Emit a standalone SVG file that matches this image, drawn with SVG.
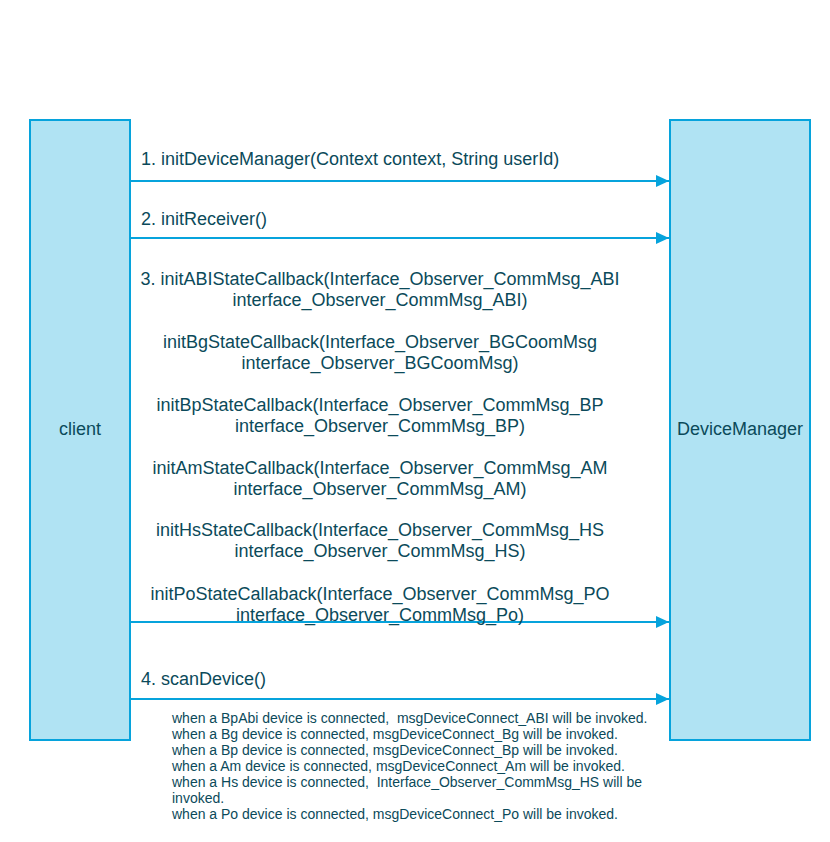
<svg xmlns="http://www.w3.org/2000/svg" width="830" height="842" viewBox="0 0 830 842">
  <style>
    .box { fill: #b0e3f3; stroke: #06a3dc; stroke-width: 2; }
    .lbl { font-family: "Liberation Sans", Arial, sans-serif; font-size: 18px; fill: #0b4a5a; }
    .mid { text-anchor: middle; }
    .note { font-family: "Liberation Sans", Arial, sans-serif; font-size: 14px; fill: #0b4a5a; white-space: pre; }
    .msg { stroke: #06a3dc; stroke-width: 2; fill: none; marker-end: url(#head); }
  </style>
  <defs>
    <!-- solid triangular arrowhead shared by all messages -->
    <marker id="head" markerWidth="14" markerHeight="12" refX="13" refY="6" orient="auto" markerUnits="userSpaceOnUse">
      <path d="M0,0 L13,6 L0,12 Z" fill="#06a3dc"/>
    </marker>
  </defs>
  <rect width="830" height="842" fill="#ffffff"/>

  <g id="client">
    <rect class="box" x="30" y="120" width="100" height="620"/>
    <text class="lbl mid" x="80" y="435">client</text>
  </g>

  <g id="device-manager">
    <rect class="box" x="670" y="120" width="140" height="620"/>
    <text class="lbl mid" x="740" y="435">DeviceManager</text>
  </g>

  <g id="connectors">
    <line class="msg" x1="131" y1="181" x2="669" y2="181"/>
    <line class="msg" x1="131" y1="238" x2="669" y2="238"/>
    <line class="msg" x1="131" y1="622" x2="669" y2="622"/>
    <line class="msg" x1="131" y1="699" x2="669" y2="699"/>
  </g>

  <g id="labels">
    <text class="lbl" x="141" y="165">1. initDeviceManager(Context context, String userId)</text>
    <text class="lbl" x="141" y="225">2. initReceiver()</text>

    <text class="lbl mid" x="380" y="285">3. initABIStateCallback(Interface_Observer_CommMsg_ABI</text>
    <text class="lbl mid" x="380" y="306">interface_Observer_CommMsg_ABI)</text>

    <text class="lbl mid" x="380" y="348">initBgStateCallback(Interface_Observer_BGCoomMsg</text>
    <text class="lbl mid" x="380" y="369">interface_Observer_BGCoomMsg)</text>

    <text class="lbl mid" x="380" y="411">initBpStateCallback(Interface_Observer_CommMsg_BP</text>
    <text class="lbl mid" x="380" y="432">interface_Observer_CommMsg_BP)</text>

    <text class="lbl mid" x="380" y="474">initAmStateCallback(Interface_Observer_CommMsg_AM</text>
    <text class="lbl mid" x="380" y="495">interface_Observer_CommMsg_AM)</text>

    <text class="lbl mid" x="380" y="536">initHsStateCallback(Interface_Observer_CommMsg_HS</text>
    <text class="lbl mid" x="380" y="557">interface_Observer_CommMsg_HS)</text>

    <text class="lbl mid" x="380" y="600">initPoStateCallaback(Interface_Observer_CommMsg_PO</text>
    <text class="lbl mid" x="380" y="621">interface_Observer_CommMsg_Po)</text>

    <text class="lbl" x="141" y="685">4. scanDevice()</text>
  </g>

  <g id="scan-notes">
    <text class="note" x="172" y="723">when a BpAbi device is connected,  msgDeviceConnect_ABI will be invoked.</text>
    <text class="note" x="172" y="739">when a Bg device is connected, msgDeviceConnect_Bg will be invoked.</text>
    <text class="note" x="172" y="755">when a Bp device is connected, msgDeviceConnect_Bp will be invoked.</text>
    <text class="note" x="172" y="771">when a Am device is connected, msgDeviceConnect_Am will be invoked.</text>
    <text class="note" x="172" y="787">when a Hs device is connected,  Interface_Observer_CommMsg_HS will be</text>
    <text class="note" x="172" y="803">invoked.</text>
    <text class="note" x="172" y="819">when a Po device is connected, msgDeviceConnect_Po will be invoked.</text>
  </g>
</svg>
